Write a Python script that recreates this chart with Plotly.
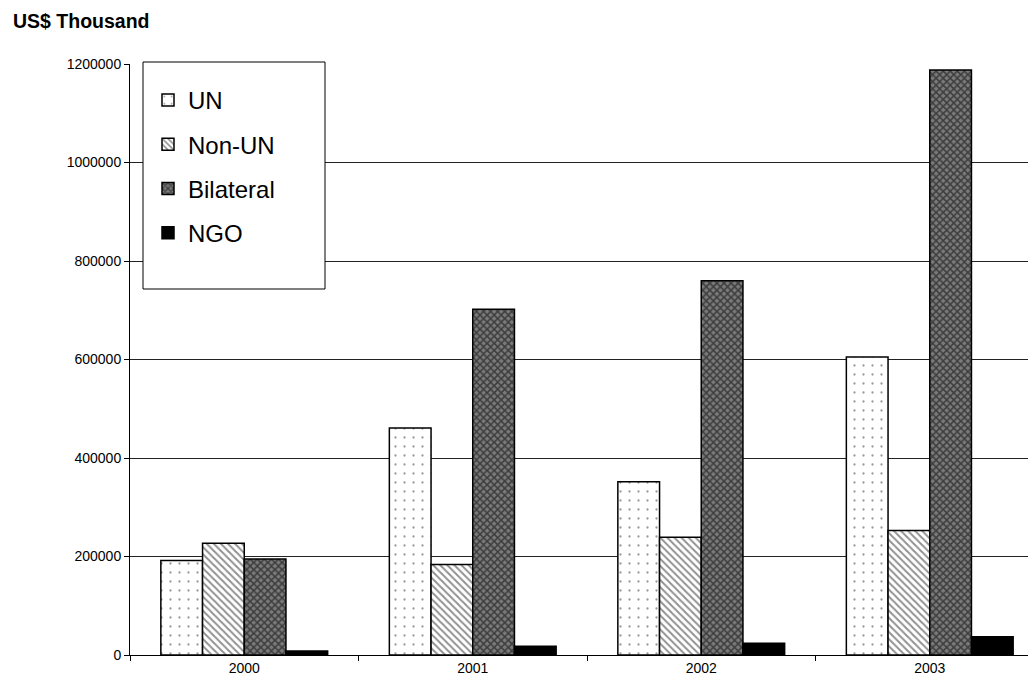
import plotly.graph_objects as go

years = ["2000", "2001", "2002", "2003"]
un = [192000, 461000, 352000, 605000]
non_un = [227000, 184000, 239000, 253000]
bilateral = [195000, 702000, 760000, 1188000]
ngo = [8000, 18000, 24000, 37000]

OFF = 8  # page body margin
W, H = 1036 - OFF, 686 - 2 * OFF
ML, MR, MT = 130 - OFF, 0, 64 - OFF
MB = H - (655 - OFF)
PW = W - ML - MR
PH = H - MT - MB


def py(y):  # screen y -> paper y
    return (H - MB - (y - OFF)) / PH


def px(x):  # screen x -> paper x
    return (x - OFF - ML) / PW


fig = go.Figure()
fig.add_trace(go.Bar(name="UN", x=years, y=un,
                     marker=dict(color="white", line=dict(color="black", width=1.5),
                                 pattern=dict(shape=".", fgcolor="#333333", bgcolor="white",
                                              size=9, solidity=0.05)),
                     legendgroup="a"))
fig.add_trace(go.Bar(name="Non-UN", x=years, y=non_un,
                     marker=dict(color="white", line=dict(color="black", width=1.5),
                                 pattern=dict(shape="\\", fgcolor="#222222", bgcolor="white",
                                              size=5, solidity=0.4)),
                     legendgroup="b"))
fig.add_trace(go.Bar(name="Bilateral", x=years, y=bilateral,
                     marker=dict(color="#606060", line=dict(color="black", width=1.5),
                                 pattern=dict(shape="x", fgcolor="black", bgcolor="#7a7a7a",
                                              size=5, solidity=0.5)),
                     legendgroup="c"))
fig.add_trace(go.Bar(name="NGO", x=years, y=ngo,
                     marker=dict(color="black", line=dict(color="black", width=1.5)),
                     legendgroup="d"))

# legend frame
fig.add_shape(type="rect", xref="paper", yref="paper",
              x0=px(143), x1=px(325), y0=py(289), y1=py(62),
              line=dict(color="black", width=1), fillcolor="white", layer="above")

fig.update_layout(
    width=W, height=H,
    margin=dict(l=ML, r=MR, t=MT, b=MB, pad=0),
    paper_bgcolor="white", plot_bgcolor="white",
    font=dict(family="Arial, Liberation Sans, sans-serif", color="black", size=14),
    title=dict(text="<b>US$ Thousand</b>", x=(13 - OFF) / W, xanchor="left", xref="container",
               y=1 - (21 - OFF) / H, yanchor="middle", yref="container",
               font=dict(size=19.5, color="black")),
    barmode="group", bargap=0.27, bargroupgap=0,
    showlegend=True,
    legend=dict(x=px(148), xanchor="left", y=py(78), yanchor="top",
                bgcolor="rgba(0,0,0,0)", borderwidth=0,
                font=dict(size=24, color="black"),
                traceorder="grouped", tracegroupgap=10, itemclick=False),
    xaxis=dict(type="category", range=[-0.5, -0.5 + PW / 228.5],
               showline=True, linecolor="black", linewidth=1,
               ticks="outside", ticklen=5, tickcolor="black", tickson="boundaries",
               showgrid=False, tickfont=dict(size=14)),
    yaxis=dict(range=[0, 1200000], dtick=200000, tickformat="d",
               showline=True, linecolor="black", linewidth=1,
               ticks="outside", ticklen=5, tickcolor="black",
               showgrid=True, gridcolor="#222222", gridwidth=1,
               zeroline=False, tickfont=dict(size=14)),
)

fig.write_html("out.html")
